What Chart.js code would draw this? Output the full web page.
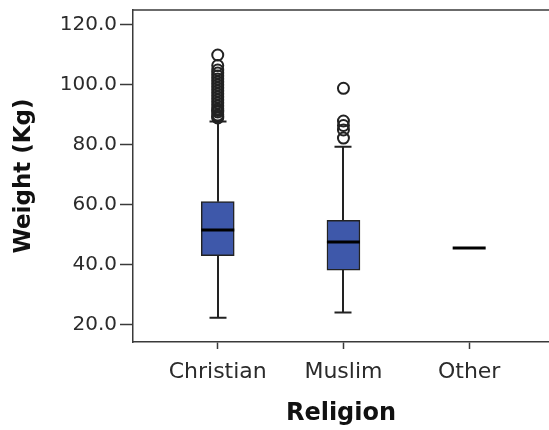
<!DOCTYPE html>
<html>
<head>
<meta charset="utf-8">
<title>Weight by Religion</title>
<script src="https://cdn.jsdelivr.net/npm/chart.js"></script>
<style>
    html, body { margin: 0; padding: 0; background: #fff; }
    .wrap { position: relative; width: 549px; height: 430px; }
</style>
</head>
<body>
<div class="wrap"><canvas id="boxChart"></canvas></div>
<script>
// Data
const categories = ['Christian', 'Muslim', 'Other'];
const whiskerLow = [22.4, 24.2, 45.7];
const q1 = [43.1, 38.3, 45.7];
const median = [51.7, 47.7, 45.7];
const q3 = [61.1, 54.9, 45.7];
const whiskerHigh = [87.8, 79.4, 45.7];
const outliersChristian = [89, 89.5, 90, 91, 91.5, 92, 93, 94, 95, 96, 97, 98, 99, 100, 101, 102, 103, 104, 105, 106.5, 110];
const outliersMuslim = [82.3, 85, 86.5, 88, 98.9];
const yTicks = [20, 40, 60, 80, 100, 120];

const BOX_WIDTH = 33;
const CAP_HALF = 8.5;
const INK = '#222';
const AXIS = '#3a3a3a';

// Build datasets from the arrays
const boxData = [];
categories.forEach((c, i) => {
    if (q3[i] > q1[i]) boxData.push({ x: i + 1, y: [q1[i], q3[i]] });
});
const outlierData = [
    ...outliersChristian.map(v => ({ x: 1, y: v })),
    ...outliersMuslim.map(v => ({ x: 2, y: v }))
];

// Whiskers, caps, medians and the top frame line
const boxPlotPlugin = {
    id: 'boxPlot',
    beforeDatasetsDraw(chart) {
        const { ctx, scales: { x, y } } = chart;
        ctx.save();
        ctx.strokeStyle = INK;
        ctx.lineWidth = 2;
        categories.forEach((c, i) => {
            if (whiskerHigh[i] === whiskerLow[i]) return;
            const px = Math.round(x.getPixelForValue(i + 1));
            ctx.beginPath();
            ctx.moveTo(px, y.getPixelForValue(q3[i]));
            ctx.lineTo(px, y.getPixelForValue(whiskerHigh[i]));
            ctx.moveTo(px, y.getPixelForValue(q1[i]));
            ctx.lineTo(px, y.getPixelForValue(whiskerLow[i]));
            ctx.stroke();
            // caps
            ctx.beginPath();
            ctx.moveTo(px - CAP_HALF, y.getPixelForValue(whiskerHigh[i]));
            ctx.lineTo(px + CAP_HALF, y.getPixelForValue(whiskerHigh[i]));
            ctx.moveTo(px - CAP_HALF, y.getPixelForValue(whiskerLow[i]));
            ctx.lineTo(px + CAP_HALF, y.getPixelForValue(whiskerLow[i]));
            ctx.stroke();
        });
        ctx.restore();
    },
    afterDatasetsDraw(chart) {
        const { ctx, chartArea, scales: { x, y } } = chart;
        ctx.save();
        ctx.strokeStyle = '#000';
        ctx.lineWidth = 3;
        categories.forEach((c, i) => {
            const px = x.getPixelForValue(i + 1);
            const py = y.getPixelForValue(median[i]);
            ctx.beginPath();
            ctx.moveTo(px - BOX_WIDTH / 2, py);
            ctx.lineTo(px + BOX_WIDTH / 2, py);
            ctx.stroke();
        });
        // top frame
        ctx.strokeStyle = AXIS;
        ctx.lineWidth = 1.5;
        ctx.beginPath();
        ctx.moveTo(chartArea.left, chartArea.top);
        ctx.lineTo(chartArea.right, chartArea.top);
        ctx.stroke();
        ctx.restore();
    }
};

new Chart(document.getElementById('boxChart'), {
    type: 'bar',
    data: {
        datasets: [
            {
                type: 'bar',
                data: boxData,
                backgroundColor: '#3E58AA',
                borderColor: INK,
                borderWidth: 1.5,
                borderSkipped: false,
                barThickness: BOX_WIDTH,
                order: 2
            },
            {
                type: 'scatter',
                data: outlierData,
                pointStyle: 'circle',
                pointRadius: 5.5,
                pointBorderWidth: 2,
                borderColor: INK,
                backgroundColor: 'rgba(0,0,0,0)',
                order: 1
            }
        ]
    },
    options: {
        responsive: true,
        maintainAspectRatio: false,
        animation: false,
        layout: {
            autoPadding: false,
            padding: { top: 10, right: 0, bottom: 0, left: 0 }
        },
        plugins: {
            legend: { display: false },
            tooltip: { enabled: false }
        },
        scales: {
            x: {
                type: 'linear',
                offset: false,
                min: 0.326,
                max: 3.635,
                afterBuildTicks: (scale) => {
                    scale.ticks = categories.map((c, i) => ({ value: i + 1 }));
                },
                afterFit: (scale) => {
                    scale.height = 88;
                    scale.paddingLeft = 0;
                    scale.paddingRight = 0;
                },
                ticks: {
                    callback: (v) => categories[v - 1],
                    color: '#2b2b2b',
                    font: { family: 'DejaVu Sans', size: 22 },
                    padding: 10,
                    maxRotation: 0,
                    autoSkip: false
                },
                grid: {
                    offset: false,
                    drawOnChartArea: false,
                    drawTicks: true,
                    tickLength: 7,
                    tickWidth: 1.5,
                    tickColor: AXIS
                },
                border: { display: true, color: AXIS, width: 1.5 },
                title: {
                    display: true,
                    text: 'Religion',
                    color: '#111',
                    font: { family: 'DejaVu Sans', size: 24, weight: 'bold' },
                    padding: { top: 0, bottom: 2 }
                }
            },
            y: {
                type: 'linear',
                min: 14.33,
                max: 125,
                afterBuildTicks: (scale) => {
                    scale.ticks = yTicks.map(v => ({ value: v }));
                },
                afterFit: (scale) => {
                    scale.width = 133;
                    scale.paddingTop = 0;
                    scale.paddingBottom = 0;
                },
                ticks: {
                    callback: (v) => v.toFixed(1),
                    color: '#2b2b2b',
                    font: { family: 'DejaVu Sans', size: 20 },
                    padding: 3
                },
                grid: {
                    drawOnChartArea: false,
                    drawTicks: true,
                    tickLength: 13,
                    tickWidth: 1.5,
                    tickColor: AXIS
                },
                border: { display: true, color: AXIS, width: 1.5 },
                title: {
                    display: true,
                    text: 'Weight (Kg)',
                    color: '#111',
                    font: { family: 'DejaVu Sans', size: 23, weight: 'bold' },
                    padding: { top: 10, bottom: 0 }
                }
            }
        }
    },
    plugins: [boxPlotPlugin]
});
</script>
</body>
</html>
